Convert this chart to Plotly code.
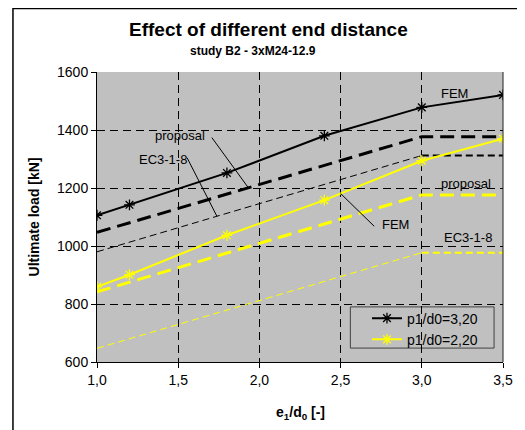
import plotly.graph_objects as go

# ---- data ----
fem_x = [1.0, 1.2, 1.8, 2.4, 3.0, 3.5]
fem_320 = [1106, 1142, 1252, 1380, 1478, 1521]
fem_220 = [859, 901, 1037, 1158, 1294, 1370]

rule_x = [1.0, 3.0, 3.5]
prop_320 = [1047, 1377, 1377]
ec3_320 = [980, 1312, 1312]
prop_220 = [842, 1176, 1176]
ec3_220 = [647, 977, 977]

x_ticks = [1.0, 1.5, 2.0, 2.5, 3.0, 3.5]
y_ticks = [600, 800, 1000, 1200, 1400, 1600]

BLACK = "#000000"
YELLOW = "#FFFF00"
FONT = "Arial, Liberation Sans, sans-serif"

fig = go.Figure()

# thin dashed EC3-1-8 lines (sloped part thin, plateau slightly heavier)
for vals, col in ((ec3_220, YELLOW), (ec3_320, BLACK)):
    fig.add_trace(go.Scatter(x=rule_x[:2], y=vals[:2], mode="lines", showlegend=False,
                             line=dict(color=col, width=1, dash="7px,4px")))
    fig.add_trace(go.Scatter(x=rule_x[1:], y=vals[1:], mode="lines", showlegend=False,
                             line=dict(color=col, width=2, dash="7px,4px")))
# thick dashed proposal lines
fig.add_trace(go.Scatter(x=rule_x, y=prop_220, mode="lines", showlegend=False,
                         line=dict(color=YELLOW, width=3, dash="14px,7px")))
fig.add_trace(go.Scatter(x=rule_x, y=prop_320, mode="lines", showlegend=False,
                         line=dict(color=BLACK, width=3, dash="14px,7px")))
# FEM solid lines
fig.add_trace(go.Scatter(x=fem_x, y=fem_320, mode="lines+markers", name="p1/d0=3,20",
                         line=dict(color=BLACK, width=2),
                         marker=dict(symbol="asterisk-open", size=9,
                                     line=dict(color=BLACK, width=1.3))))
fig.add_trace(go.Scatter(x=fem_x, y=fem_220, mode="lines+markers", name="p1/d0=2,20",
                         line=dict(color=YELLOW, width=2),
                         marker=dict(symbol="asterisk-open", size=9,
                                     line=dict(color=YELLOW, width=1.3))))

# leader lines for labels
leaders = [
    (1.707, 1374, 1.933, 1200),
    (1.555, 1304, 1.738, 1103),
    (2.707, 1068, 2.500, 1181),
]
shapes = []
for x0, y0, x1, y1 in leaders:
    shapes.append(dict(type="line", xref="x", yref="y", x0=x0, y0=y0, x1=x1, y1=y1,
                       line=dict(color=BLACK, width=1)))
# right edge of plot area
shapes.append(dict(type="line", xref="paper", yref="paper", x0=1, x1=1, y0=0, y1=1,
                   line=dict(color="#202020", width=1)))
# legend frame
shapes.append(dict(type="rect", xref="paper", yref="paper",
                   x0=0.624, x1=0.978, y0=0.048, y1=0.19,
                   line=dict(color="#404040", width=1), fillcolor="#C0C0C0",
                   layer="between"))
# outer chart border
shapes.append(dict(type="rect", xref="paper", yref="paper",
                   x0=-0.207, x1=1.041, y0=-0.25, y1=1.219,
                   line=dict(color=BLACK, width=1.5), layer="below"))

labels = [
    ("FEM", 3.20, 1527),
    ("proposal", 1.512, 1381),
    ("EC3-1-8", 1.409, 1297),
    ("FEM", 2.841, 1075),
    ("proposal", 3.274, 1214),
    ("EC3-1-8", 3.287, 1030),
]
annotations = [dict(text=t, x=x, y=y, xref="x", yref="y", showarrow=False,
                    xanchor="center", yanchor="middle",
                    font=dict(family=FONT, size=13, color="#000000"))
               for t, x, y in labels]

annotations += [
    dict(text="<b>Effect of different end distance</b>", xref="paper", yref="paper",
         x=0.422, y=1.145, xanchor="center", yanchor="middle", showarrow=False,
         font=dict(family=FONT, size=19, color="#000")),
    dict(text="<b>study B2 - 3xM24-12.9</b>", xref="paper", yref="paper",
         x=0.385, y=1.072, xanchor="center", yanchor="middle", showarrow=False,
         font=dict(family=FONT, size=12, color="#000")),
    dict(text="<b>Ultimate load [kN]</b>", xref="paper", yref="paper",
         x=-0.154, y=0.5, xanchor="center", yanchor="middle", textangle=-90,
         showarrow=False, font=dict(family=FONT, size=14, color="#000")),
    dict(text="<b>e<sub>1</sub>/d<sub>0</sub> [-]</b>", xref="paper", yref="paper",
         x=0.5, y=-0.176, xanchor="center", yanchor="middle", showarrow=False,
         font=dict(family=FONT, size=14, color="#000")),
]

fig.update_layout(
    width=517, height=422,
    margin=dict(l=89, r=19, t=64, b=68),
    paper_bgcolor="white", plot_bgcolor="#C0C0C0",
    font=dict(family=FONT, size=14, color="#000"),
    separators=",.",
    shapes=shapes, annotations=annotations,
    showlegend=True,
    legend=dict(x=0.665, y=0.205, xanchor="left", yanchor="top",
                bgcolor="rgba(0,0,0,0)", borderwidth=0,
                font=dict(family=FONT, size=14, color="#000"),
                tracegroupgap=0, itemwidth=30),
)
fig.update_xaxes(range=[1.0, 3.5], tickvals=x_ticks, tickformat=".1f",
                 showgrid=True, gridcolor="#000000", gridwidth=1, griddash="8px,5px",
                 showline=True, linecolor="#000", linewidth=1,
                 ticks="outside", ticklen=5, tickcolor="#000", zeroline=False,
                 fixedrange=True)
fig.update_yaxes(range=[600, 1600], tickvals=y_ticks, tickformat="d",
                 showgrid=True, gridcolor="#000000", gridwidth=1, griddash="8px,5px",
                 showline=True, linecolor="#000", linewidth=1,
                 ticks="outside", ticklen=5, tickcolor="#000", zeroline=False,
                 fixedrange=True)

fig.write_html("out.html")
